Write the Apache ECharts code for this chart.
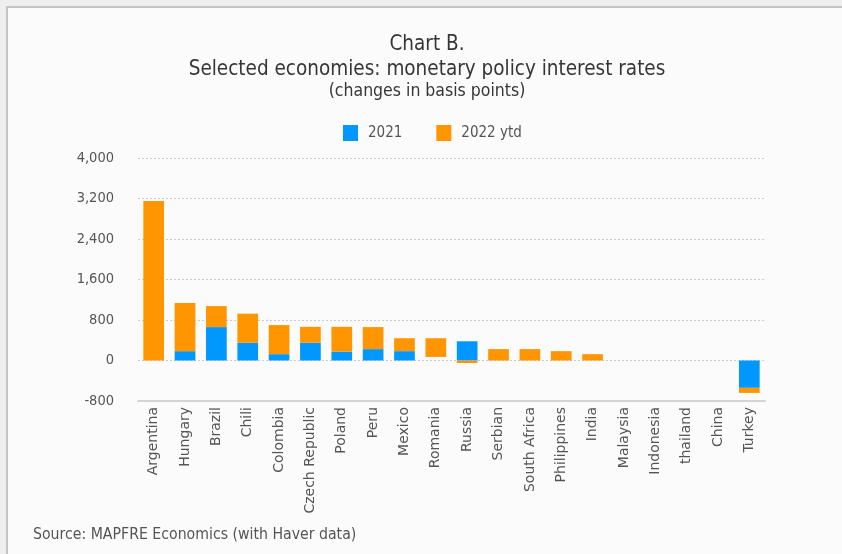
<!DOCTYPE html>
<html>
<head>
<meta charset="utf-8">
<script src="https://cdn.jsdelivr.net/npm/echarts@6/dist/echarts.min.js"></script>
<style>
  html, body { margin: 0; padding: 0; background: #eeeeee; }
  #panel { position: absolute; left: 6px; top: 6px; width: 900px; height: 600px;
           background: #fbfbfb; border-left: 2px solid #c4c4c4; border-top: 2px solid #c4c4c4; }
  #chart { position: absolute; left: 0; top: 0; width: 842px; height: 554px; }
</style>
</head>
<body>
<div id="panel"></div>
<div id="chart"></div>
<script>
const categories = ["Argentina","Hungary","Brazil","Chili","Colombia","Czech Republic","Poland","Peru","Mexico","Romania","Russia","Serbian","South Africa","Philippines","India","Malaysia","Indonesia","thailand","China","Turkey"];
const values2021 = [0, 185, 660, 350, 125, 350, 175, 225, 185, 70, 380, 0, 0, 0, 0, 0, 0, 0, 0, -540];
const values2022 = [3150, 950, 415, 575, 575, 315, 490, 435, 255, 370, -50, 225, 225, 185, 125, 0, 0, 0, 0, -100];
const yTicks = [-800, 0, 800, 1600, 2400, 3200, 4000];
const hidden2021 = ["Romania"];

const condensed = '"Liberation Sans Narrow", "DejaVu Sans Condensed", Roboto, sans-serif';
const chart = echarts.init(document.getElementById('chart'), null, { renderer: 'canvas' });

const data2021 = values2021.map((v, i) => hidden2021.includes(categories[i])
  ? { value: v, itemStyle: { color: 'rgba(0,0,0,0)' } } : v);

chart.setOption({
  backgroundColor: 'transparent',
  animation: false,
  graphic: [
    { type: 'text', x: 427, y: 34, style: { text: 'Chart B.', font: '20.5px ' + condensed, fill: '#363636', align: 'center' } },
    { type: 'text', x: 427, y: 59, style: { text: 'Selected economies: monetary policy interest rates', font: '20.5px ' + condensed, fill: '#363636', align: 'center' } },
    { type: 'text', x: 427, y: 82, style: { text: '(changes in basis points)', font: '17.5px ' + condensed, fill: '#363636', align: 'center' } },
    { type: 'text', x: 33, y: 527, style: { text: 'Source: MAPFRE Economics (with Haver data)', font: '15.7px ' + condensed, fill: '#555555' } }
  ],
  legend: {
    left: 338, top: 120,
    itemWidth: 15, itemHeight: 16, itemGap: 34,
    icon: 'rect',
    textStyle: { fontFamily: condensed, fontSize: 15, color: '#555555', padding: [0, 0, 0, 5] },
    data: ['2021', '2022 ytd']
  },
  grid: { left: 138, right: 77, top: 158, bottom: 153, containLabel: false },
  xAxis: {
    type: 'category',
    data: categories,
    axisLine: { onZero: false, lineStyle: { color: '#d4d4d4', width: 2 } },
    axisTick: { show: false },
    axisLabel: { rotate: 90, interval: 0, margin: 6, color: '#555555', fontFamily: '"DejaVu Sans", sans-serif', fontSize: 14 }
  },
  yAxis: {
    type: 'value',
    min: yTicks[0], max: yTicks[yTicks.length - 1], interval: 800,
    axisLine: { show: false },
    axisTick: { show: false },
    axisLabel: {
      margin: 24, color: '#555555', fontFamily: condensed, fontSize: 14.5,
      formatter: v => v.toLocaleString('en-US')
    },
    splitLine: { lineStyle: { color: '#cccccc', type: [2, 2], width: 1 } }
  },
  series: [
    { name: '2021', type: 'bar', stack: 'total', data: data2021, barCategoryGap: '34%', itemStyle: { color: '#0098fe' } },
    { name: '2022 ytd', type: 'bar', stack: 'total', data: values2022, barCategoryGap: '34%', itemStyle: { color: '#ff9500' } }
  ]
});
</script>
</body>
</html>
